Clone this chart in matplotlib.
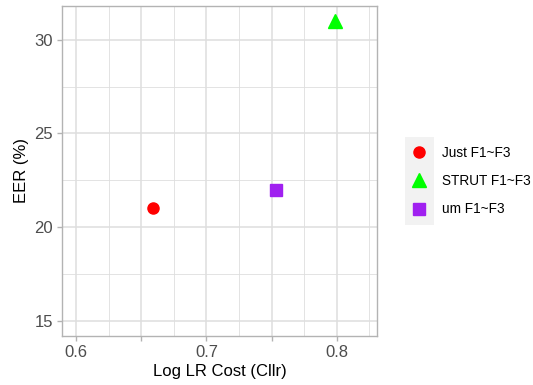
import matplotlib
matplotlib.use('Agg')
import matplotlib.pyplot as plt
from matplotlib.lines import Line2D
from matplotlib.patches import Rectangle

plt.rcParams['font.family'] = ['Liberation Sans', 'DejaVu Sans']

labels = ['Just F1~F3', 'STRUT F1~F3', 'um F1~F3']
cllr = [0.659, 0.7985, 0.7533]
eer = [21.0, 31.0, 22.0]
colors = ['#FF0000', '#00FF00', '#A020F0']
markers = ['o', '^', 's']
sizes = [8, 10, 8]

GRID = '#DEDEDE'
BORDER = '#B3B3B3'
TICKLAB = '#4D4D4D'

fig = plt.figure(figsize=(5.33, 3.85), dpi=100)
ax = fig.add_axes([0.1163, 0.1273, 0.591, 0.8571])

for x, y, c, m, s in zip(cllr, eer, colors, markers, sizes):
    ax.plot(x, y, marker=m, color=c, markersize=s, linestyle='none', zorder=3)

# ggplot-style expansion of 5% on fixed limits
xlo, xhi = 0.6, 0.82
ylo, yhi = 15, 31
ax.set_xlim(xlo - 0.05 * (xhi - xlo), xhi + 0.05 * (xhi - xlo))
ax.set_ylim(ylo - 0.05 * (yhi - ylo), yhi + 0.05 * (yhi - ylo))

xmaj = [0.6, 0.65, 0.7, 0.75, 0.8]
ax.set_xticks(xmaj)
ax.set_xticklabels(['0.6', '', '0.7', '', '0.8'])
ax.set_xticks([0.625, 0.675, 0.725, 0.775, 0.825], minor=True)
ax.set_yticks([15, 20, 25, 30])
ax.set_yticks([17.5, 22.5, 27.5], minor=True)

ax.grid(True, which='major', color=GRID, linewidth=1.1, zorder=0)
ax.grid(True, which='minor', color=GRID, linewidth=0.6, zorder=0)
ax.set_axisbelow(True)
for sp in ax.spines.values():
    sp.set_color(BORDER)
    sp.set_linewidth(1.0)
ax.tick_params(which='major', color=BORDER, length=3.5, width=1.0,
               labelcolor=TICKLAB, labelsize=12, pad=3)
ax.tick_params(which='minor', length=0)

ax.set_xlabel('Log LR Cost (Cllr)', fontsize=12, labelpad=3)
ax.set_ylabel('EER (%)', fontsize=12, labelpad=4)

# legend with grey key background
handles = [Line2D([], [], marker=m, color=c, markersize=s, linestyle='none')
           for c, m, s in zip(colors, markers, sizes)]
fig.patches.append(Rectangle((405 / 533, 1 - 225 / 385), 29 / 533, 88 / 385,
                             transform=fig.transFigure, facecolor='#F2F2F2',
                             edgecolor='none', zorder=0))
fig.legend(handles, labels, loc='center left', bbox_to_anchor=(401 / 533, 1 - 181 / 385),
           frameon=False, fontsize=9.8, handlelength=1.6, handletextpad=0.88,
           labelspacing=1.05, borderpad=0)

fig.savefig('out.png', dpi=100)
